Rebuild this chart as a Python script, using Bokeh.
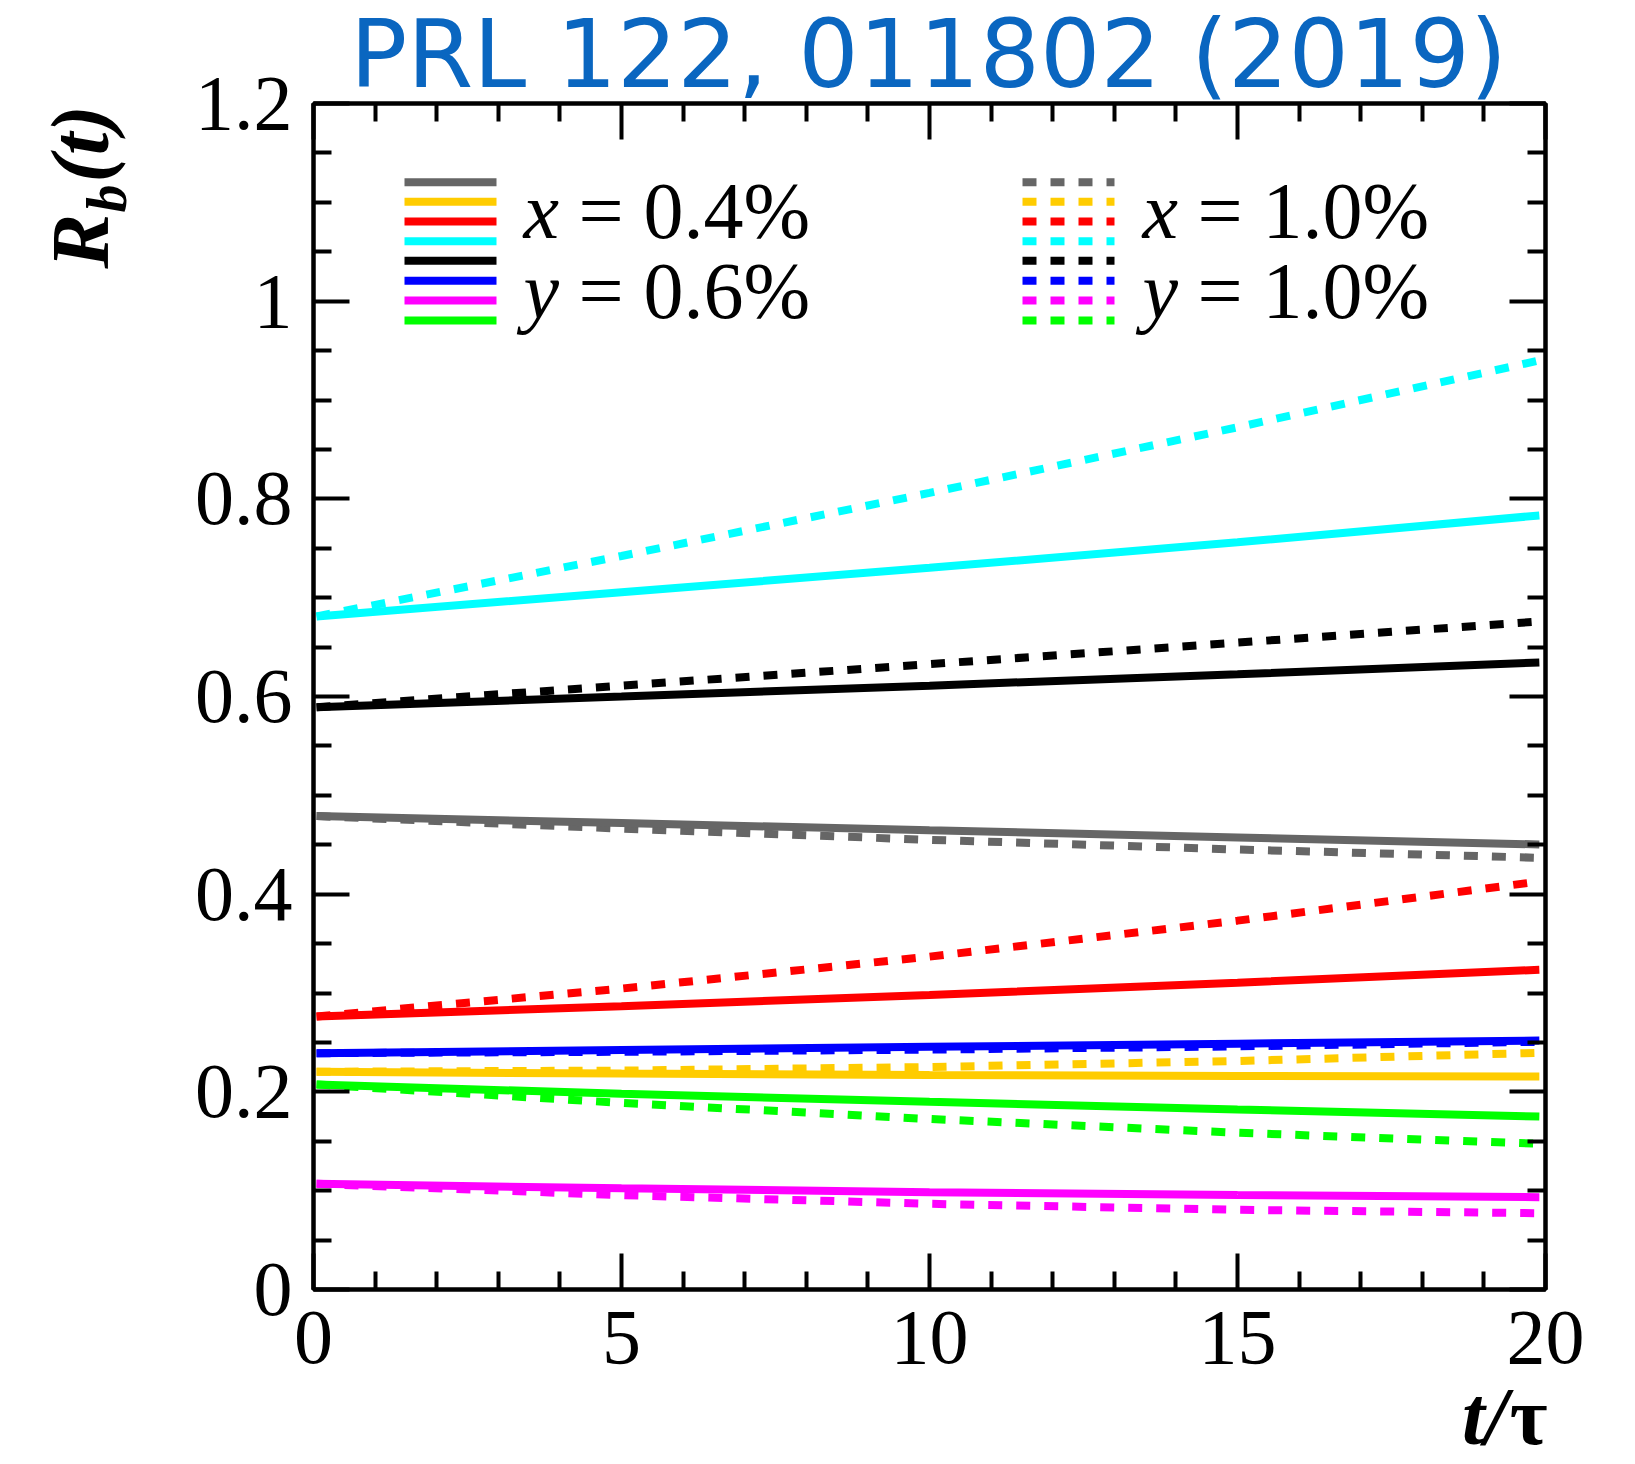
import math
from bokeh.plotting import figure
from bokeh.models import LinearAxis, FixedTicker, Range1d
from bokeh.core.properties import value
from bokeh.embed import file_html
from bokeh.resources import INLINE

# ---------------- data ----------------
t_vals = [0.05, 5, 10, 15, 19.9]
colors = ["#666666", "#ffcc00", "#ff0000", "#00ffff", "#000000", "#0000ff", "#ff00ff", "#00ff00"]

# solid curves: x = 0.4 %, y = 0.6 %
gray_solid = [0.479, 0.472, 0.4646, 0.4574, 0.4503]
orange_solid = [0.2203, 0.2185, 0.2170, 0.2160, 0.2155]
red_solid = [0.2762, 0.2866, 0.2980, 0.3104, 0.3235]
cyan_solid = [0.681, 0.7055, 0.7302, 0.7560, 0.7832]
black_solid = [0.5892, 0.600, 0.611, 0.6225, 0.6344]
blue_solid = [0.2391, 0.2423, 0.2455, 0.2487, 0.2519]
magenta_solid = [0.1069, 0.1024, 0.0984, 0.0956, 0.0934]
green_solid = [0.2074, 0.198, 0.190, 0.1822, 0.175]

# dotted curves: x = 1.0 %, y = 1.0 %
gray_dotted = [0.479, 0.4663, 0.455, 0.4452, 0.4368]
orange_dotted = [0.2203, 0.2215, 0.2251, 0.2312, 0.2395]
red_dotted = [0.2762, 0.3045, 0.3368, 0.3732, 0.4128]
cyan_dotted = [0.681, 0.7422, 0.806, 0.8724, 0.94]
black_dotted = [0.5892, 0.611, 0.6327, 0.6545, 0.6759]
blue_dotted = [0.2391, 0.2405, 0.2427, 0.2460, 0.2506]
magenta_dotted = [0.1069, 0.0955, 0.0867, 0.0806, 0.0772]
green_dotted = [0.2074, 0.1888, 0.1725, 0.1586, 0.1474]

solid_series = [gray_solid, orange_solid, red_solid, cyan_solid,
                black_solid, blue_solid, magenta_solid, green_solid]
dotted_series = [gray_dotted, orange_dotted, red_dotted, cyan_dotted,
                 black_dotted, blue_dotted, magenta_dotted, green_dotted]

x_ticks = [0, 5, 10, 15, 20]
x_tick_labels = ["0", "5", "10", "15", "20"]
x_minor = [1, 2, 3, 4, 6, 7, 8, 9, 11, 12, 13, 14, 16, 17, 18, 19]
y_ticks = [0, 0.2, 0.4, 0.6, 0.8, 1.0, 1.2]
y_tick_labels = ["0", "0.2", "0.4", "0.6", "0.8", "1", "1.2"]
y_minor = [0.05, 0.1, 0.15, 0.25, 0.3, 0.35, 0.45, 0.5, 0.55, 0.65, 0.7, 0.75,
           0.85, 0.9, 0.95, 1.05, 1.1, 1.15]

title_text = "PRL 122, 011802 (2019)"
legend_solid_text = [("x", "= 0.4%"), ("y", "= 0.6%")]
legend_dotted_text = [("x", "= 1.0%"), ("y", "= 1.0%")]

# ---------------- figure ----------------
FL, FR, FT, FB = 313, 82, 103, 175
FW, FH = 1232, 1186
W, H = FL + FW + FR, FT + FH + FB
p = figure(width=W, height=H, output_backend="svg", toolbar_location=None,
           x_range=Range1d(0, 20), y_range=Range1d(0, 1.2),
           x_axis_type=None, y_axis_type=None,
           min_border_left=FL, min_border_right=FR,
           min_border_top=FT, min_border_bottom=FB)
p.title.visible = False
p.grid.visible = False
p.background_fill_color = "white"
p.border_fill_color = "white"
p.outline_line_color = "black"
p.outline_line_width = 4

LW = 8
DASH = "14 14"

for ys, c in zip(dotted_series, colors):
    p.line(t_vals, ys, line_color=c, line_width=LW, line_dash=DASH)
for ys, c in zip(solid_series, colors):
    p.line(t_vals, ys, line_color=c, line_width=LW)

# ---------------- axes ----------------
def make_axis(ticks, minor, labels, show_labels, standoff):
    ax = LinearAxis(ticker=FixedTicker(ticks=ticks, minor_ticks=minor))
    ax.axis_line_width = 4
    ax.axis_line_color = "black"
    ax.major_tick_in = 36
    ax.major_tick_out = 0
    ax.minor_tick_in = 18
    ax.minor_tick_out = 0
    ax.major_tick_line_width = 4
    ax.minor_tick_line_width = 4
    ax.major_tick_line_color = "black"
    ax.minor_tick_line_color = "black"
    ax.major_label_overrides = {tk: lb for tk, lb in zip(ticks, labels)}
    ax.major_label_text_font = "Liberation Serif"
    ax.major_label_standoff = standoff
    if show_labels:
        ax.major_label_text_font_size = "78px"
        ax.major_label_text_color = "black"
    else:
        ax.major_label_text_font_size = "2px"
        ax.major_label_text_color = None
    return ax

p.add_layout(make_axis(x_ticks, x_minor, x_tick_labels, True, 22), "below")
p.add_layout(make_axis(x_ticks, x_minor, x_tick_labels, False, 0), "above")
p.add_layout(make_axis(y_ticks, y_minor, y_tick_labels, True, 21), "left")
p.add_layout(make_axis(y_ticks, y_minor, y_tick_labels, False, 0), "right")

# canvas-pixel -> data helpers
def tx(px):
    return (px - FL) / (FW / 20.0)

def ry(py):
    return (FT + FH - py) / (FH / 1.2)

def put_text(xp, yp, txt, size, font="Liberation Serif", style="normal",
             color="black", align="left", angle=0.0):
    p.text(x=[tx(xp)], y=[ry(yp)], text=[txt], text_font=value(font),
           text_font_size=value(size), text_font_style=value(style),
           text_color=color, text_align=value(align),
           text_baseline=value("middle"), angle=angle, level="overlay")

# ---------------- title ----------------
put_text(928, 53, title_text, "95px", font="DejaVu Sans", color="#0a66c0",
         align="center")

# ---------------- axis titles ----------------
put_text(80, 268, "R", "82px", style="bold italic", angle=math.pi / 2)
put_text(106, 212, "b", "56px", style="bold italic", angle=math.pi / 2)
put_text(80, 182, "(t)", "82px", style="bold italic", angle=math.pi / 2)

put_text(1547, 1416, "τ", "82px", style="bold", align="right")
put_text(1507, 1416, "t/", "82px", style="bold italic", align="right")

# ---------------- legend ----------------
row_px = [181.7, 201.3, 221.0, 240.7, 260.3, 280.3, 300.0, 320.0]
left_key = (404, 496)
right_key = (1022, 1114)
for i, c in enumerate(colors):
    yy = ry(row_px[i])
    p.line([tx(left_key[0]), tx(left_key[1])], [yy, yy], line_color=c, line_width=LW)
    p.line([tx(right_key[0]), tx(right_key[1])], [yy, yy], line_color=c,
           line_width=LW, line_dash=DASH)

mid_px = [210, 290]
for (var, rest), yp in zip(legend_solid_text, mid_px):
    put_text(523, yp, var, "80px", style="italic")
    put_text(578, yp, rest, "80px")
for (var, rest), yp in zip(legend_dotted_text, mid_px):
    put_text(1142, yp, var, "80px", style="italic")
    put_text(1197, yp, rest, "80px")

open("out.html", "w").write(file_html(p, INLINE))
